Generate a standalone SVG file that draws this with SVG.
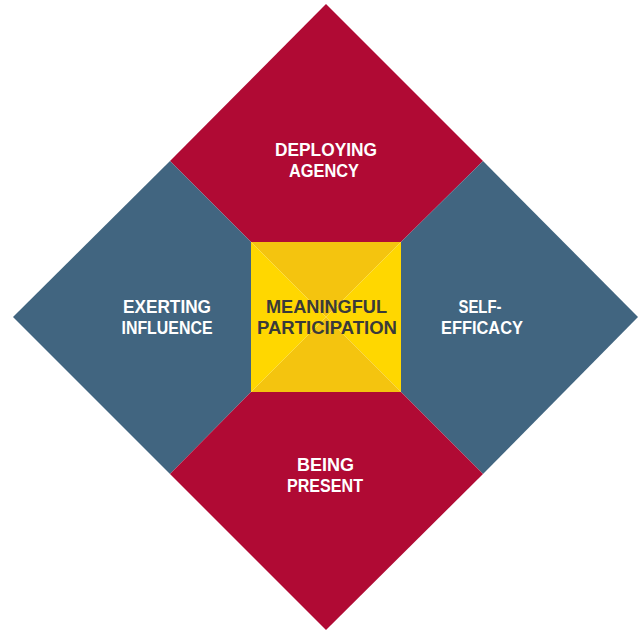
<svg xmlns="http://www.w3.org/2000/svg" width="638" height="631" viewBox="0 0 638 631">
<style>
.red{fill:#B00A34}
.blue{fill:#416580}
.ydark{fill:#F4C40F}
.ylight{fill:#FFD700}
text{font-family:"Liberation Sans",Arial,sans-serif;font-weight:bold;font-size:18.5px;text-anchor:middle}
.w{fill:#FFFFFF}
.d{fill:#3A3A3A}
</style>
<rect width="638" height="631" fill="#FFFFFF"/>
<g id="deploying-agency">
<polygon class="red" points="326,4 483,161 401,242 251,242 170,161"/>
<text class="w" x="326" y="156" textLength="102" lengthAdjust="spacingAndGlyphs">DEPLOYING</text>
<text class="w" x="324" y="177" textLength="70" lengthAdjust="spacingAndGlyphs">AGENCY</text>
</g>
<g id="exerting-influence">
<polygon class="blue" points="13,317 170,161 251,242 251,392 170,474"/>
<text class="w" x="167" y="313" textLength="88" lengthAdjust="spacingAndGlyphs">EXERTING</text>
<text class="w" x="167" y="334" textLength="91" lengthAdjust="spacingAndGlyphs">INFLUENCE</text>
</g>
<g id="self-efficacy">
<polygon class="blue" points="638,317 483,161 401,242 401,392 483,474"/>
<text class="w" x="480" y="313" textLength="43" lengthAdjust="spacingAndGlyphs">SELF-</text>
<text class="w" x="482" y="334" textLength="82" lengthAdjust="spacingAndGlyphs">EFFICACY</text>
</g>
<g id="being-present">
<polygon class="red" points="326,630 483,474 401,392 251,392 170,474"/>
<text class="w" x="325.5" y="471" textLength="57" lengthAdjust="spacingAndGlyphs">BEING</text>
<text class="w" x="325" y="492" textLength="76" lengthAdjust="spacingAndGlyphs">PRESENT</text>
</g>
<g id="meaningful-participation">
<polygon class="ydark" points="251,242 401,242 326,317"/>
<polygon class="ylight" points="401,242 401,392 326,317"/>
<polygon class="ydark" points="401,392 251,392 326,317"/>
<polygon class="ylight" points="251,392 251,242 326,317"/>
<text class="d" x="326.5" y="313" textLength="121" lengthAdjust="spacingAndGlyphs">MEANINGFUL</text>
<text class="d" x="327" y="334" textLength="140" lengthAdjust="spacingAndGlyphs">PARTICIPATION</text>
</g>
<g id="connectors"></g>
</svg>
